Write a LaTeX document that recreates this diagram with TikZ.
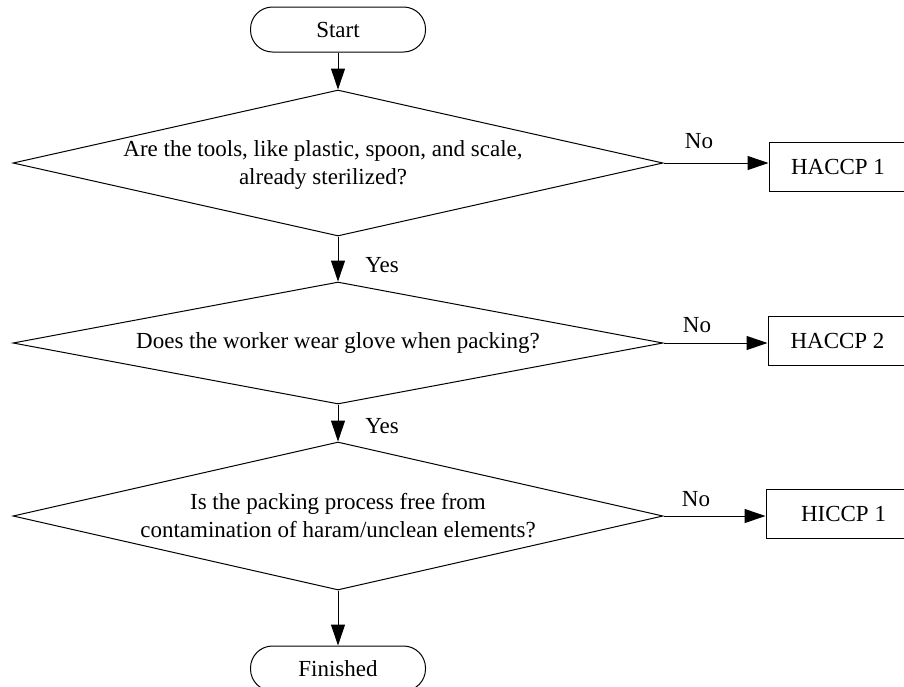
\documentclass[tikz,border=0pt]{standalone}
\usepackage{fontspec}
\setmainfont{Liberation Serif}
\usetikzlibrary{shapes.geometric,arrows.meta}
\begin{document}
\begin{tikzpicture}[x=1pt,y=-1pt,
  every node/.append style={font=\fontsize{23}{28}\selectfont},
  flow/.style={line width=1pt, -{Triangle[length=21pt,width=14pt]}},
  terminal/.style={draw, line width=1pt, rounded corners=22pt,
    minimum width=175pt, minimum height=45pt, inner sep=0pt},
  decision/.style={draw, line width=1pt, diamond, minimum width=650pt, inner sep=0pt},
  action/.style={draw, line width=1pt, rectangle, minimum height=49pt, inner sep=0pt},
  qtext/.style={align=center, inner sep=0pt},
  tag/.style={inner sep=0pt}]
\useasboundingbox (0,0) rectangle (904,686);

% terminals
\node[terminal] (start) at (338,29.5) {Start};
\node[terminal] (finish) at (338,668.5) {Finished};

% decisions
\node[decision, minimum height=146pt] (d1) at (338,163) {};
\node[qtext] (q1) at (323,165) {Are the tools, like plastic, spoon, and scale,\\already sterilized?};

\node[decision, minimum height=122pt] (d2) at (338,343) {};
\node[qtext] (q2) at (338,343) {Does the worker wear glove when packing?};

\node[decision, minimum height=148pt] (d3) at (338,516) {};
\node[qtext] (q3) at (338,516) {Is the packing process free from\\contamination of haram/unclean elements?};

% control points
\node[action, minimum width=138pt] (h1) at (838,166.5) {HACCP 1};
\node[action, minimum width=139pt] (h2) at (837.5,340.5) {HACCP 2};
\node[action, minimum width=155pt] (h3) at (843.5,514) {HICCP 1};

% main flow
\draw[flow] (start.south) -- (d1.north);
\draw[flow] (d1.south) -- (d2.north);
\draw[flow] (d2.south) -- (d3.north);
\draw[flow] (d3.south) -- (finish.north);

% branches
\draw[flow] (d1.east) -- (d1.east -| h1.west);
\draw[flow] (d2.east) -- (d2.east -| h2.west);
\draw[flow] (d3.east) -- (d3.east -| h3.west);

% branch labels
\node[tag] (y1) at (382,265) {Yes};
\node[tag] (y2) at (382,426) {Yes};
\node[tag] (n1) at (699,141) {No};
\node[tag] (n2) at (697,325) {No};
\node[tag] (n3) at (696,499) {No};
\end{tikzpicture}
\end{document}
